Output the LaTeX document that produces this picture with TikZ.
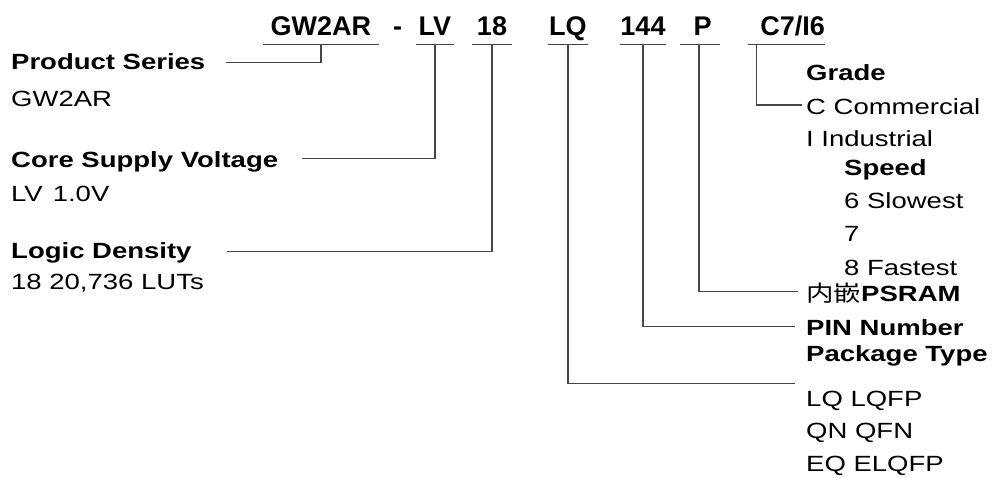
\documentclass[tikz,border=0pt]{standalone}
\usepackage{fontspec}
\setmainfont{Liberation Sans}[FakeStretch=1.25]
\newfontfamily\codefont{Liberation Sans}
\newfontfamily\cjk{Noto Sans CJK SC}[FakeStretch=1.25]
\usetikzlibrary{calc}

\tikzset{
  code/.style={font=\codefont\bfseries\fontsize{27}{30}\selectfont, anchor=base,
    inner xsep=0pt, inner ysep=9pt, text depth=0pt},
  head/.style={font=\bfseries\fontsize{22}{26}\selectfont, anchor=base west, inner sep=0pt},
  item/.style={font=\fontsize{22}{26}\selectfont, anchor=base west, inner sep=0pt},
  lead/.style={draw=black!72, line width=1.4pt},
}

\begin{document}
\begin{tikzpicture}[x=1pt,y=-1pt]
\useasboundingbox (0,0) rectangle (998,477);

% Part number fields
\node[code, minimum width=115pt] (gw) at (320.8,35) {GW2AR};
\node[code] (dash) at (397.5,35) {-};
\node[code, minimum width=38.3pt] (lv) at (434.9,35) {LV};
\node[code, minimum width=39.4pt] (den) at (492,35) {18};
\node[code, minimum width=39pt] (lq) at (567.8,35) {LQ};
\node[code, minimum width=39.4pt] (pin) at (643,35) {144};
\node[code, minimum width=39.3pt] (ps) at (699.7,35) {\hspace*{6pt}P};
\node[code, minimum width=76.7pt] (cg) at (786.7,35) {\hspace*{12pt}C7/I6};

\foreach \f in {gw,lv,den,lq,pin,ps,cg}
{
\draw[lead] (\f.south west)--(\f.south east);
}

% Left labels
\node[head] (series) at (11,69) {Product Series};
\node[item] (seriesv) at (11,106) {GW2AR};
\node[head] (volt) at (11,167.5) {Core Supply Voltage};
\node[item] (voltv) at (11,201) {LV\hspace{10pt}1.0V};
\node[head] (logic) at (11,258.3) {Logic Density};
\node[item] (logicv) at (11,289.3) {18 20,736 LUTs};

% Right labels
\node[head] (grade) at (806,80) {Grade};
\node[item] (gradec) at (806,114) {C Commercial};
\node[item] (gradei) at (806,146) {I Industrial};
\node[head] (speed) at (844,175) {Speed};
\foreach \t/\y in {6 Slowest/208,7/241,8 Fastest/275}
{
\node[item] at (844,\y) {\t};
}
\node[head] (psram) at (806,301) {{\cjk\mdseries 内嵌}PSRAM};
\node[head] (pinno) at (806,335) {PIN Number};
\node[head] (pkg) at (806,361) {Package Type};
\foreach \t/\y in {LQ LQFP/406,QN QFN/438,EQ ELQFP/471}
{
\node[item] at (806,\y) {\t};
}

% Leader lines
\coordinate (seriesin) at (226,62.7);
\coordinate (voltin) at (301.7,158.3);
\coordinate (logicin) at (226.7,251.7);
\coordinate (gradein) at (801.7,105);
\coordinate (psramin) at (797.7,291.7);
\coordinate (pinin) at (795,326.7);
\coordinate (pkgin) at (795,383.3);

\draw[lead] (gw.south) |- (seriesin);
\draw[lead] (lv.south) |- (voltin);
\draw[lead] (den.south) |- (logicin);
\draw[lead] ($(cg.south west)+(8.4,0)$) |- (gradein);
\draw[lead] ($(ps.south west)+(19.3,0)$) |- (psramin);
\draw[lead] (pin.south) |- (pinin);
\draw[lead] (lq.south) |- (pkgin);

\end{tikzpicture}
\end{document}
